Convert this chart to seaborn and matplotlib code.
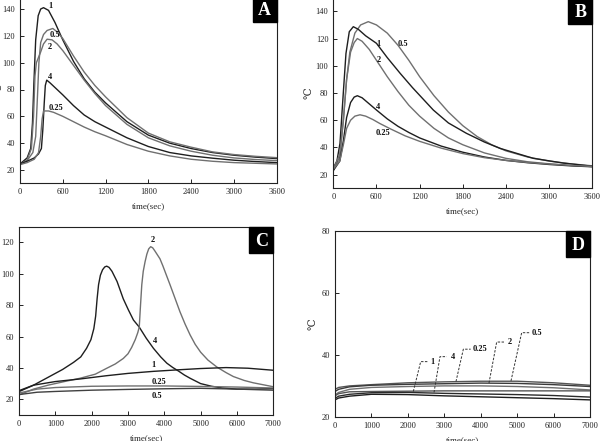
import numpy as np
import pandas as pd
import matplotlib
matplotlib.use("Agg")
import matplotlib.pyplot as plt
from matplotlib.patches import Rectangle
import seaborn as sns

# ---- panel A (time in sec, temperature in C) ----
a_t_1 = [0, 100, 150, 175, 195, 220, 255, 290, 330, 400, 490, 600, 750, 900, 1050, 1200, 1500, 1800, 2100, 2400, 2700, 3000, 3300, 3600]
a_y_1 = [24.5, 29, 36, 55, 85, 117, 135, 140, 141, 139, 130, 117, 101, 88, 78, 70, 56, 46, 40, 36, 33, 31, 29.6, 28.5]
a_t_05 = [0, 100, 180, 220, 245, 265, 290, 330, 380, 460, 520, 600, 750, 900, 1050, 1200, 1500, 1800, 2100, 2400, 2700, 3000, 3300, 3600]
a_y_05 = [24, 27, 33, 45, 75, 100, 115, 121, 124, 125.5, 123, 118, 105, 93, 83, 74.5, 59, 47.5, 41, 37, 33.5, 31.5, 30.2, 29.2]
a_t_2 = [0, 100, 160, 190, 210, 230, 260, 290, 330, 380, 450, 520, 600, 750, 900, 1050, 1200, 1500, 1800, 2100, 2400, 2700, 3000, 3300, 3600]
a_y_2 = [24, 27.5, 36, 60, 90, 100, 104, 108, 114, 117.5, 117, 114, 109, 98, 87, 77, 68, 54, 44, 38, 34, 31, 29, 27.8, 27]
a_t_4 = [0, 100, 200, 260, 300, 320, 340, 355, 375, 420, 500, 600, 750, 900, 1050, 1200, 1500, 1800, 2100, 2400, 2700, 3000, 3300, 3600]
a_y_4 = [24.5, 26.5, 29, 32, 36, 50, 70, 83, 87, 85, 81, 76, 68, 61, 56, 52, 44, 37.5, 33, 30.5, 28.8, 27.3, 26.3, 25.5]
a_t_025 = [0, 100, 200, 260, 290, 310, 330, 400, 470, 600, 750, 900, 1050, 1200, 1500, 1800, 2100, 2400, 2700, 3000, 3300, 3600]
a_y_025 = [24, 25.5, 28, 33, 45, 58, 64, 64, 63, 60, 56, 52, 48.5, 45.5, 39, 34, 30.5, 28, 26.5, 25.5, 25, 24.5]

# ---- panel B ----
b_t_05 = [0, 90, 140, 185, 230, 300, 380, 486, 600, 750, 900, 1050, 1200, 1400, 1600, 1800, 2000, 2200, 2400, 2700, 3000, 3300, 3600]
b_y_05 = [23, 33, 60, 90, 110, 124, 130, 132.4, 130, 124, 115, 104, 92, 78, 66, 56, 48, 42, 37.5, 33, 30, 28, 26.5]
b_t_1 = [0, 50, 93, 139, 176, 222, 278, 347, 450, 600, 750, 930, 1100, 1390, 1600, 1850, 2100, 2320, 2780, 3200, 3600]
b_y_1 = [25, 30, 43, 80, 109, 125, 128.7, 126.8, 122, 116.5, 106, 94.4, 84, 67.5, 58, 50.4, 44, 39.3, 32, 28.5, 26.2]
b_t_2 = [0, 90, 140, 185, 240, 290, 334, 400, 500, 600, 750, 900, 1050, 1200, 1400, 1600, 1800, 2100, 2400, 2700, 3000, 3300, 3600]
b_y_2 = [24, 35, 60, 90, 110, 117, 120, 118, 112, 104, 92, 81, 71, 63, 54, 47, 42, 36, 32, 29.5, 28, 26.8, 26]
b_t_4 = [0, 90, 140, 185, 240, 290, 334, 400, 500, 600, 750, 900, 1050, 1200, 1500, 1800, 2100, 2400, 2700, 3000, 3300, 3600]
b_y_4 = [23, 30, 45, 62, 73, 77, 78, 76.5, 72, 67.5, 61, 55.5, 51, 47, 41, 36.5, 33, 30.5, 28.8, 27.5, 26.5, 25.8]
b_t_025 = [0, 90, 140, 185, 240, 300, 371, 450, 550, 650, 800, 1000, 1200, 1500, 1800, 2100, 2400, 2700, 3000, 3300, 3600]
b_y_025 = [24, 30, 42, 54, 60, 63, 64, 63, 60.5, 57.5, 53.5, 48.5, 44.5, 39.5, 35.5, 32.5, 30.5, 29, 27.8, 26.8, 26]

# ---- panel C ----
c_t_4 = [0, 400, 800, 1200, 1500, 1700, 1860, 1980, 2060, 2110, 2150, 2190, 2240, 2300, 2360, 2414, 2480, 2560, 2700, 2870, 3010, 3150, 3310, 3500, 3700, 3900, 4070, 4230, 4390, 4550, 4710, 5000, 5300, 5600, 6000, 6500, 7000]
c_y_4 = [24.9, 29, 34, 39, 43.5, 47, 52.5, 58, 65, 73, 84, 93, 99, 102.5, 104.3, 104.8, 104, 101.5, 95, 84, 77, 70.5, 66, 59, 52.5, 47, 43, 40.3, 38, 35.5, 33.4, 30, 28.3, 27.2, 26.5, 26.5, 26.8]
c_t_2 = [0, 400, 800, 1250, 1680, 2100, 2410, 2650, 2870, 3000, 3100, 3200, 3270, 3310, 3345, 3380, 3420, 3470, 3520, 3570, 3625, 3680, 3740, 3810, 3880, 3960, 4050, 4160, 4300, 4430, 4570, 4710, 4850, 5000, 5200, 5450, 5700, 5900, 6200, 6450, 7000]
c_y_2 = [22.8, 26.5, 29, 31.3, 33.4, 36, 39.7, 42.5, 46, 49, 53, 58, 62.5, 66, 80, 93, 101.5, 107.6, 112.5, 115.8, 117.2, 116.5, 114.5, 112, 109.5, 105, 99.5, 92.8, 84, 75.8, 68, 61, 55, 50, 45, 40.5, 37, 34.5, 32, 30.5, 28]
c_t_1 = [0, 400, 1000, 1700, 2400, 3000, 3700, 4400, 5000, 5700, 6300, 7000]
c_y_1 = [25.5, 29, 31.3, 33, 35, 36.5, 37.8, 38.8, 39.6, 40.2, 39.8, 38.5]
c_t_025 = [0, 500, 1000, 2000, 3000, 4000, 5000, 6000, 7000]
c_y_025 = [24, 26.5, 27.5, 28.3, 28.5, 28.5, 28.2, 27.8, 27.2]
c_t_05 = [0, 500, 1000, 2000, 3000, 4000, 5000, 6000, 7000]
c_y_05 = [23, 24.5, 25, 25.8, 26.3, 26.7, 27, 26.5, 25.8]

# ---- panel D ----
d_t = [0, 100, 400, 1000, 2000, 3000, 4000, 5000, 6000, 7000]
d_y_05 = [29.0, 29.6, 30.1, 30.5, 31.1, 31.4, 31.6, 31.6, 31.1, 30.3]
d_y_2 = [28.3, 29.0, 29.8, 30.3, 30.6, 30.8, 31.0, 30.9, 30.5, 29.9]
d_y_025 = [27.2, 28.0, 29.0, 29.6, 29.9, 30.1, 30.1, 29.9, 29.5, 28.8]
d_y_x = [26.9, 27.6, 28.2, 28.3, 28.4, 28.5, 28.5, 28.5, 28.5, 28.5]
d_y_4 = [26.1, 26.8, 27.4, 27.9, 28.0, 27.7, 27.5, 27.3, 27.0, 26.5]
d_y_1 = [25.6, 26.2, 26.8, 27.4, 27.3, 26.9, 26.6, 26.3, 26.0, 25.6]

DARK = "#1e1e1e"
GRAY = "#707070"

sns.set_style("ticks")
plt.rcParams["font.family"] = ["Liberation Serif", "DejaVu Serif"]
plt.rcParams["axes.linewidth"] = 0.8
plt.rcParams["axes.edgecolor"] = "#222222"


def frame(curves):
    parts = [pd.DataFrame({"t": t, "y": y, "curve": name}) for name, t, y in curves]
    return pd.concat(parts, ignore_index=True)


W, H = 602, 441
fig = plt.figure(figsize=(W / 100, H / 100), dpi=100)


def add_panel(l, r, top, bot):
    ax = fig.add_axes([l / W, 1 - bot / H, (r - l) / W, (bot - top) / H])
    return ax, (r - l), (bot - top)


def style(ax, xt, yt, xlim, ylim, letter, wpx, hpx, ylab_x):
    ax.set_xlim(*xlim)
    ax.set_ylim(*ylim)
    ax.set_xticks(xt)
    ax.set_yticks(yt)
    ax.tick_params(direction="in", length=3, width=0.7, labelsize=6, pad=3.5, colors="#222222")
    ax.set_xlabel("time(sec)", fontsize=6.5, labelpad=4.5)
    ax.set_ylabel("\u2103", fontsize=7.5)
    ax.yaxis.set_label_coords(ylab_x, 0.5)
    bw, bh = 24 / wpx, 26 / hpx
    ax.add_patch(Rectangle((1 - bw, 1 - bh), bw, bh, transform=ax.transAxes,
                           color="black", zorder=5, clip_on=False))
    ax.text(1 - bw / 2, 1 - bh / 2 - 0.01, letter, transform=ax.transAxes, color="white",
            fontsize=13, weight="bold", ha="center", va="center", zorder=6)


def labels(ax, items):
    for txt, x, y in items:
        ax.text(x, y, txt, fontsize=6, weight="bold", ha="center", va="center", color="#111111")


# A
axA, wA, hA = add_panel(20, 276.7, -4.4, 183.4)
dfA = frame([("1", a_t_1, a_y_1), ("0.5", a_t_05, a_y_05), ("2", a_t_2, a_y_2),
             ("4", a_t_4, a_y_4), ("0.25", a_t_025, a_y_025)])
sns.lineplot(data=dfA, x="t", y="y", hue="curve", estimator=None, sort=False, legend=False,
             palette={"1": DARK, "0.5": GRAY, "2": GRAY, "4": DARK, "0.25": GRAY},
             linewidth=1.0, ax=axA)
style(axA, range(0, 3601, 600), range(20, 141, 20), (0, 3600), (10, 150), "A", wA, hA, -0.066)
labels(axA, [("1", 430, 142.5), ("0.5", 490, 120.5), ("2", 421, 111.5),
             ("4", 421, 89.5), ("0.25", 505, 66.5)])

# B
axB, wB, hB = add_panel(333.3, 592.3, -2.3, 188.3)
dfB = frame([("0.5", b_t_05, b_y_05), ("1", b_t_1, b_y_1), ("2", b_t_2, b_y_2),
             ("4", b_t_4, b_y_4), ("0.25", b_t_025, b_y_025)])
sns.lineplot(data=dfB, x="t", y="y", hue="curve", estimator=None, sort=False, legend=False,
             palette={"1": DARK, "0.5": GRAY, "2": GRAY, "4": DARK, "0.25": GRAY},
             linewidth=1.0, ax=axB)
style(axB, range(0, 3601, 600), range(20, 141, 20), (0, 3600), (10, 150), "B", wB, hB, -0.075)
labels(axB, [("0.5", 964, 116), ("1", 625, 116), ("2", 625, 104),
             ("4", 625, 70), ("0.25", 695, 50.5)])

# C
axC, wC, hC = add_panel(19, 273.3, 226.6, 415)
dfC = frame([("4", c_t_4, c_y_4), ("2", c_t_2, c_y_2), ("1", c_t_1, c_y_1),
             ("0.25", c_t_025, c_y_025), ("0.5", c_t_05, c_y_05)])
sns.lineplot(data=dfC, x="t", y="y", hue="curve", estimator=None, sort=False, legend=False,
             palette={"4": DARK, "2": GRAY, "1": DARK, "0.25": GRAY, "0.5": "#404040"},
             linewidth=1.0, ax=axC)
style(axC, range(0, 7001, 1000), range(20, 121, 20), (0, 7000), (10, 130), "C", wC, hC, -0.063)
labels(axC, [("2", 3690, 121.5), ("4", 3744, 57), ("1", 3698, 41.8),
             ("0.25", 3854, 30.8), ("0.5", 3808, 22.1)])

# D
axD, wD, hD = add_panel(335, 590, 230.7, 417.3)
dfD = frame([("0.5", d_t, d_y_05), ("2", d_t, d_y_2), ("0.25", d_t, d_y_025),
             ("x", d_t, d_y_x), ("4", d_t, d_y_4), ("1", d_t, d_y_1)])
sns.lineplot(data=dfD, x="t", y="y", hue="curve", estimator=None, sort=False, legend=False,
             palette={"0.5": "#555555", "2": "#3a3a3a", "0.25": GRAY, "x": "#555555",
                      "4": "#2a2a2a", "1": DARK},
             linewidth=1.0, ax=axD)
style(axD, range(0, 7001, 1000), range(20, 81, 20), (0, 7000), (20, 80), "D", wD, hD, -0.067)
# callouts: text, bottom point, top point, end of short tail, text x
callouts = [("1", (2150, 28.3), (2352, 37.9), 2535, 2663),
            ("4", (2718, 28.0), (2882, 39.5), 3065, 3248),
            ("0.25", (3321, 31.5), (3523, 41.9), 3724, 3980),
            ("2", (4227, 31.0), (4438, 44.2), 4667, 4804),
            ("0.5", (4831, 31.7), (5124, 47.2), 5334, 5536)]
for txt, (x0, y0), (x1, y1), x2, xt in callouts:
    axD.plot([x0, x1, x2], [y0, y1, y1], color="#333333", lw=0.7, dashes=(2.5, 1.5))
    axD.text(xt, y1, txt, fontsize=6, weight="bold", ha="center", va="center", color="#111111")

fig.savefig("out.png", dpi=100)
